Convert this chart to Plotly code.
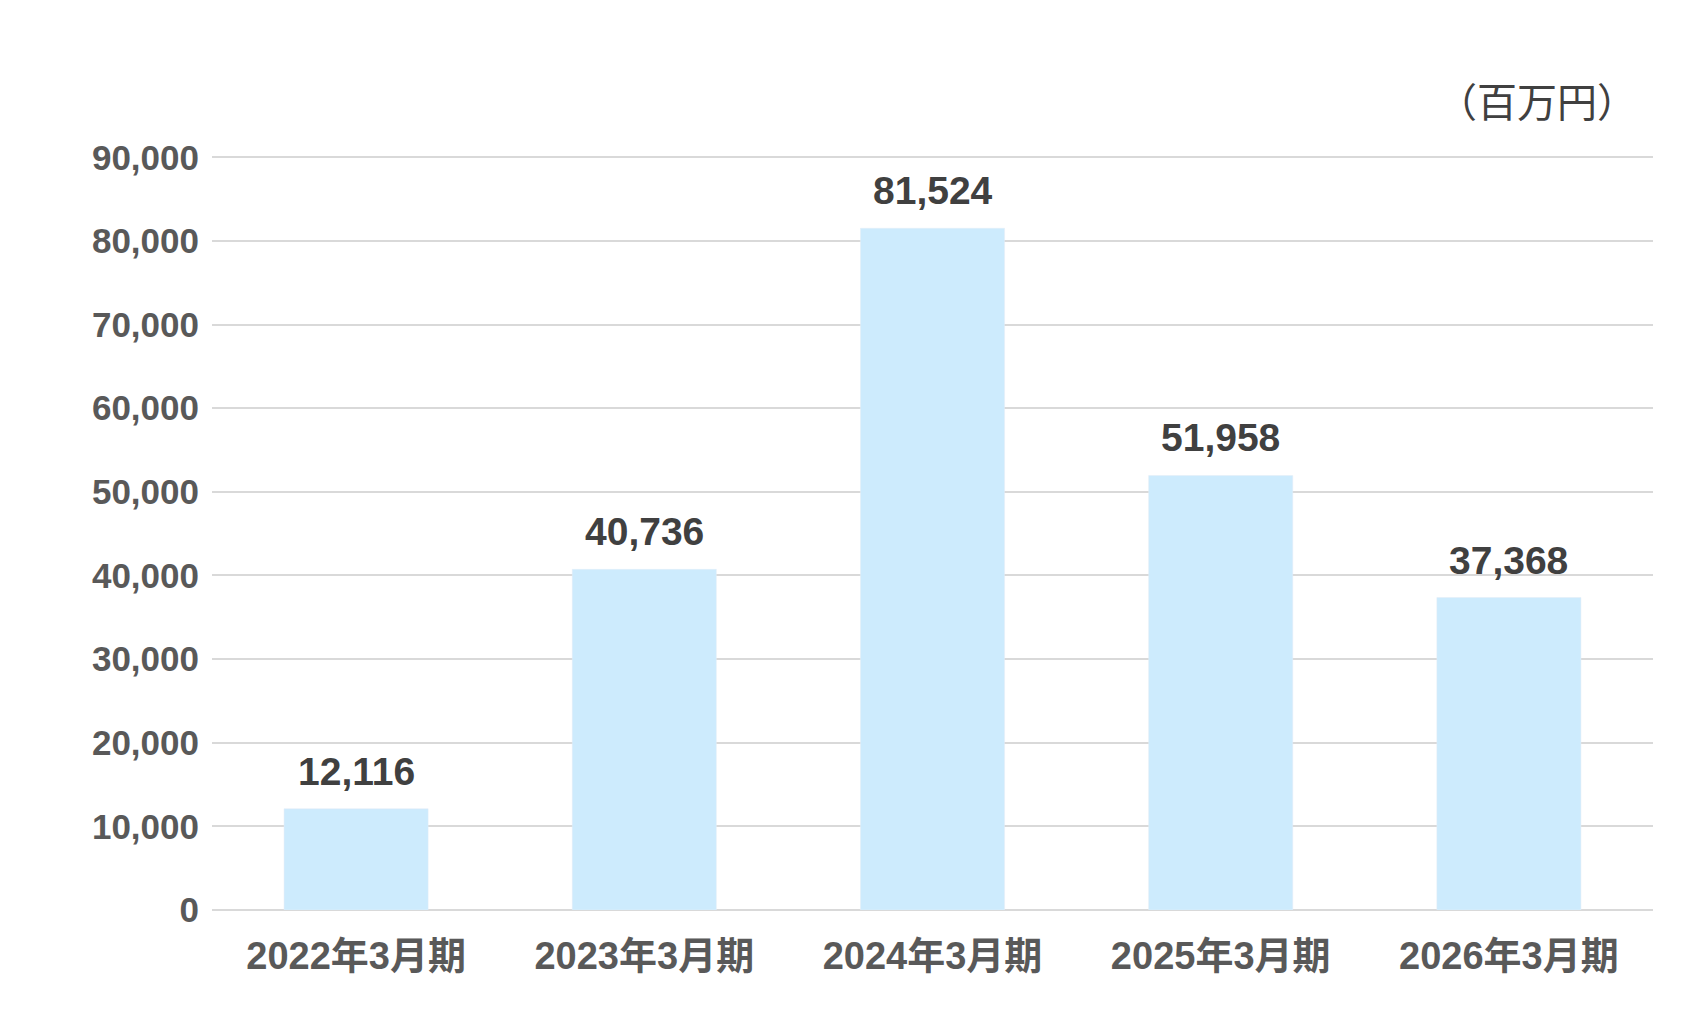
import plotly.graph_objs as go

categories = ['2022年3月期', '2023年3月期', '2024年3月期', '2025年3月期', '2026年3月期']
values = [12116, 40736, 81524, 51958, 37368]
tick_vals = [0, 10000, 20000, 30000, 40000, 50000, 60000, 70000, 80000, 90000]

font = '"Liberation Sans", Arial, "Noto Sans CJK JP", sans-serif'

fig = go.Figure(go.Bar(
    x=categories,
    y=values,
    width=0.5,
    marker=dict(color='#cdebfd'),
    hoverinfo='none',
))

# valeurs au-dessus des barres
labels = [dict(
    x=c, y=v, text=f'{v:,}', showarrow=False, yanchor='bottom', yshift=14,
    font=dict(size=39, color='#404040', family=font, weight='bold'),
) for c, v in zip(categories, values)]

labels.append(dict(
    text='（百万円）', xref='paper', yref='paper', x=0.99, y=1.03,
    xanchor='right', yanchor='bottom', showarrow=False,
    font=dict(size=40, color='#404040', family='"Noto Sans CJK JP"'),
))

fig.update_layout(
    width=1705,
    height=1032,
    plot_bgcolor='white',
    paper_bgcolor='white',
    showlegend=False,
    margin=dict(l=204, r=60, t=146, b=130),
    font=dict(family=font, color='#595959'),
    annotations=labels,
)
fig.update_yaxes(
    range=[0, 90400], tickvals=tick_vals, tickformat=',',
    showgrid=True, gridcolor='#d9d9d9', gridwidth=2,
    zeroline=True, zerolinecolor='#d9d9d9', zerolinewidth=2,
    tickfont=dict(size=35, color='#595959', family=font, weight='bold'), ticklabelstandoff=12,
)
fig.update_xaxes(
    tickfont=dict(size=38, color='#595959', family=font, weight='bold'), ticklabelstandoff=20,
    showline=False,
)
fig.write_html('out.html')
